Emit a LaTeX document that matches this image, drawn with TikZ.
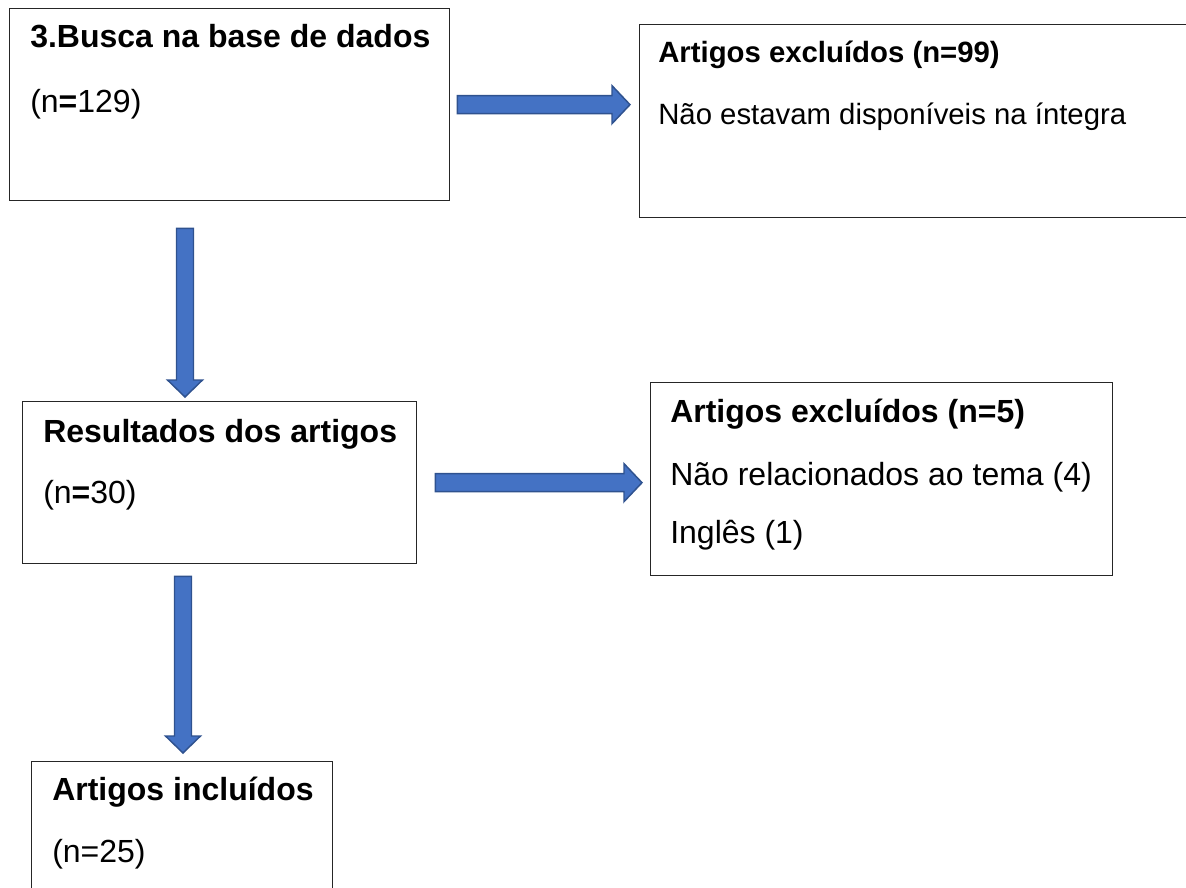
\documentclass[tikz,border=0pt]{standalone}
\usepackage{fontspec}
\setmainfont{Liberation Sans}
\usepackage{xcolor}
\usepackage{tikz}
\usetikzlibrary{calc,positioning}
\definecolor{arrowfill}{HTML}{4472C4}
\definecolor{arrowline}{HTML}{2F528F}
\newcommand{\px}{0.75pt}
\newcommand{\boxfont}{\fontsize{24}{28}\selectfont}
\newcommand{\smallboxfont}{\fontsize{22}{26}\selectfont}
\newcommand{\blockarrowh}[2]{\filldraw[blockarrow] ($(#1)+(0,-9)$) -- ($(#2)+(-18,-9)$) -- ($(#2)+(-18,-19)$) -- (#2) -- ($(#2)+(-18,19)$) -- ($(#2)+(-18,9)$) -- ($(#1)+(0,9)$) -- cycle;}
\newcommand{\blockarrowv}[2]{\filldraw[blockarrow] ($(#1)+(-8.5,0)$) -- ($(#2)+(-8.5,-17)$) -- ($(#2)+(-17.5,-17)$) -- (#2) -- ($(#2)+(17.5,-17)$) -- ($(#2)+(8.5,-17)$) -- ($(#1)+(8.5,0)$) -- cycle;}

\begin{document}
\begin{tikzpicture}[x=0.75pt, y=-0.75pt,
    box/.style={draw=black!85, line width=1pt, inner sep=0pt, anchor=north west},
    title/.style={anchor=base west, inner sep=0pt, font=\boxfont\bfseries},
    txt/.style={anchor=base west, inner sep=0pt, font=\boxfont},
    blockarrow/.style={fill=arrowfill, draw=arrowline, line width=1.1pt}]
\useasboundingbox (0,0) rectangle (1186,888);
\clip (0,0) rectangle (1186,888);

\node[box, minimum width=440*\px, minimum height=192*\px] (busca) at (9,8) {};
\node[title] (busca-t) at ($(busca.north west)+(21,40)$) {3.Busca na base de dados};
\node[txt] (busca-n) at ($(busca.north west)+(21,105)$) {(n\textbf{=}129)};

\node[box, minimum width=560*\px, minimum height=193*\px] (excl1) at (639,24) {};
\node[title, font=\smallboxfont\bfseries] (excl1-t) at ($(excl1.north west)+(19,39)$) {Artigos excluídos (n=99)};
\node[txt, font=\smallboxfont] (excl1-a) at ($(excl1.north west)+(19,101)$) {Não estavam disponíveis na íntegra};

\node[box, minimum width=394*\px, minimum height=162*\px] (result) at (22,401) {};
\node[title] (result-t) at ($(result.north west)+(21,41)$) {Resultados dos artigos};
\node[txt] (result-n) at ($(result.north west)+(21,102)$) {(n\textbf{=}30)};

\node[box, minimum width=462*\px, minimum height=193*\px] (excl2) at (650,382) {};
\node[title] (excl2-t) at ($(excl2.north west)+(20,40)$) {Artigos excluídos (n=5)};
\node[txt] (excl2-a) at ($(excl2.north west)+(20,103)$) {Não relacionados ao tema (4)};
\node[txt] (excl2-b) at ($(excl2.north west)+(20,161)$) {Inglês (1)};

\node[box, minimum width=301*\px, minimum height=140*\px] (incl) at (31,761) {};
\node[title] (incl-t) at ($(incl.north west)+(21,39)$) {Artigos incluídos};
\node[txt] (incl-n) at ($(incl.north west)+(21,101)$) {(n=25)};

\coordinate (a1s) at ($(busca.east)+(7,0)$);
\coordinate (a1e) at ($(busca.east -| excl1.west)+(-9,0)$);
\blockarrowh{a1s}{a1e}
\coordinate (a2s) at ($(busca.south west)+(176,27)$);
\coordinate (a2e) at ($(a2s |- result.north)+(0,-4)$);
\blockarrowv{a2s}{a2e}
\coordinate (a3s) at ($(result.east)+(18,0)$);
\coordinate (a3e) at ($(result.east -| excl2.west)+(-8,0)$);
\blockarrowh{a3s}{a3e}
\coordinate (a4s) at ($(result.south west)+(161,12)$);
\coordinate (a4e) at ($(a4s |- incl.north)+(0,-8)$);
\blockarrowv{a4s}{a4e}
\end{tikzpicture}
\end{document}
